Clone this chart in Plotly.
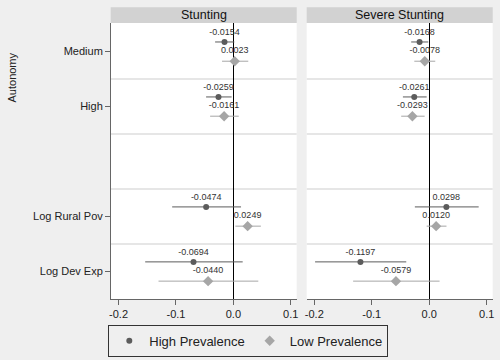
import plotly.graph_objects as go

# ---- data ----
categories = ["Medium", "High", "", "Log Rural Pov", "Log Dev Exp"]
rows = ["Medium", "High", "Log Rural Pov", "Log Dev Exp"]
panels = ["Stunting", "Severe Stunting"]
series = ["High Prevalence", "Low Prevalence"]

stunt_high_est = [-0.0154, -0.0259, -0.0474, -0.0694]
stunt_high_lo = [-0.0318, -0.0475, -0.1066, -0.1536]
stunt_high_hi = [0.0017, -0.0030, 0.0134, 0.0163]

stunt_low_est = [0.0023, -0.0161, 0.0249, -0.0440]
stunt_low_lo = [-0.0197, -0.0405, 0.0035, -0.1304]
stunt_low_hi = [0.0260, 0.0094, 0.0480, 0.0435]

sev_high_est = [-0.0168, -0.0261, 0.0298, -0.1197]
sev_high_lo = [-0.0314, -0.0458, -0.0250, -0.1986]
sev_high_hi = [-0.0017, -0.0045, 0.0860, -0.0400]

sev_low_est = [-0.0078, -0.0293, 0.0120, -0.0579]
sev_low_lo = [-0.0260, -0.0488, -0.0045, -0.1324]
sev_low_hi = [0.0105, -0.0080, 0.0300, 0.0180]

x_tickvals = [-0.2, -0.1, 0.0, 0.1]
x_ticktext = ["-0.2", "-0.1", "0.0", "0.1"]

# ---- styles ----
W, H = 500, 360
ML, MR, MT, MB = 111, 7, 23, 61
PW, PH = W - ML - MR, H - MT - MB
BG = "#efefef"
DARK = "#5c5c5c"
LIGHT = "#a6a6a6"
FONT = "Liberation Sans, Arial, sans-serif"


def px_x(px):
    return (px - ML) / PW


def px_y(py):
    return 1 - (py - MT) / PH


panel_data = {
    "Stunting": [(stunt_high_est, stunt_high_lo, stunt_high_hi),
                 (stunt_low_est, stunt_low_lo, stunt_low_hi)],
    "Severe Stunting": [(sev_high_est, sev_high_lo, sev_high_hi),
                        (sev_low_est, sev_low_lo, sev_low_hi)],
}
styles = [
    dict(color=DARK, symbol="circle", size=6, offset=-0.175),
    dict(color=LIGHT, symbol="diamond", size=8, offset=0.175),
]

fig = go.Figure()
pos = [categories.index(r) for r in rows]

for pi, pname in enumerate(panels):
    xa = "x" if pi == 0 else "x2"
    ya = "y" if pi == 0 else "y2"
    for si, (est, lo, hi) in enumerate(panel_data[pname]):
        st = styles[si]
        fig.add_trace(go.Scatter(
            x=est,
            y=[p + st["offset"] for p in pos],
            mode="markers+text",
            text=[f"{v:.4f}" for v in est],
            textposition="top center",
            textfont=dict(size=9, color="#333333", family=FONT),
            marker=dict(color=st["color"], symbol=st["symbol"], size=st["size"]),
            error_x=dict(type="data", symmetric=False,
                         array=[h - e for h, e in zip(hi, est)],
                         arrayminus=[e - l for e, l in zip(est, lo)],
                         color=st["color"], thickness=1, width=0),
            name=series[si],
            showlegend=(pi == 0),
            xaxis=xa, yaxis=ya,
            cliponaxis=False,
        ))

xrange = [-0.2132, 0.1104]
dom_left = [px_x(110.7), px_x(296.7)]
dom_right = [px_x(306.7), px_x(492.7)]
axis_common = dict(
    range=xrange, tickvals=x_tickvals, ticktext=x_ticktext,
    showgrid=False, zeroline=True, zerolinecolor="black", zerolinewidth=1,
    showline=True, linecolor="#666666", linewidth=1,
    ticks="outside", ticklen=5, tickcolor="#666666", automargin=False,
    tickfont=dict(size=11, color="#222222", family=FONT),
)
fig.update_layout(
    width=W, height=H,
    margin=dict(l=ML, r=MR, t=MT, b=MB, autoexpand=False),
    paper_bgcolor=BG, plot_bgcolor="white",
    font=dict(family=FONT, color="#222222"),
    xaxis=dict(domain=[max(0, dom_left[0]), dom_left[1]], anchor="y", **axis_common),
    xaxis2=dict(domain=[dom_right[0], min(1, dom_right[1])], anchor="y2", **axis_common),
    yaxis=dict(domain=[0, 1], anchor="x", range=[4.5, -0.52],
               tickvals=pos, ticktext=rows,
               showgrid=False, zeroline=False, automargin=False,
               showline=True, linecolor="#666666", linewidth=1,
               ticks="outside", ticklen=5, tickcolor="#666666",
               tickfont=dict(size=11, color="#222222", family=FONT)),
    yaxis2=dict(domain=[0, 1], anchor="x2", range=[4.5, -0.52],
                showticklabels=False, showgrid=False, zeroline=False,
                showline=False, ticks="", automargin=False),
    legend=dict(orientation="h", xref="container", yref="container",
                x=248.3 / W, y=1 - 340.8 / H,
                xanchor="center", yanchor="middle",
                bgcolor=BG, bordercolor="#333333", borderwidth=1,
                font=dict(size=13, color="#222222", family=FONT),
                itemwidth=30),
    showlegend=True,
)

shapes = []
annotations = []
for pi, pname in enumerate(panels):
    xa = "x" if pi == 0 else "x2"
    ya = "y" if pi == 0 else "y2"
    for b in [0.5, 1.5, 2.5, 3.5]:
        shapes.append(dict(type="line", xref=f"{xa} domain", yref=ya,
                           x0=0, x1=1, y0=b, y1=b,
                           line=dict(color="#e6e6e6", width=2), layer="below"))
    dom = dom_left if pi == 0 else dom_right
    shapes.append(dict(type="rect", xref="paper", yref="paper",
                       x0=dom[0], x1=dom[1], y0=px_y(23), y1=px_y(7.3),
                       fillcolor="#d2d2d2", line=dict(width=0)))
    annotations.append(dict(text=pname, xref="paper", yref="paper",
                            x=(dom[0] + dom[1]) / 2, y=(px_y(23) + px_y(7.3)) / 2,
                            xanchor="center", yanchor="middle", showarrow=False,
                            font=dict(size=12.5, color="#111111", family=FONT)))

annotations.append(dict(text="Autonomy", xref="paper", yref="paper",
                        x=px_x(11), y=px_y(77.5), textangle=-90,
                        xanchor="center", yanchor="middle", showarrow=False,
                        font=dict(size=11, color="#222222", family=FONT)))
fig.update_layout(shapes=shapes, annotations=annotations)

fig.write_html(
    "out.html",
    config={"displayModeBar": False},
    post_script="document.body.style.margin='0';document.body.style.background='#efefef';",
)
